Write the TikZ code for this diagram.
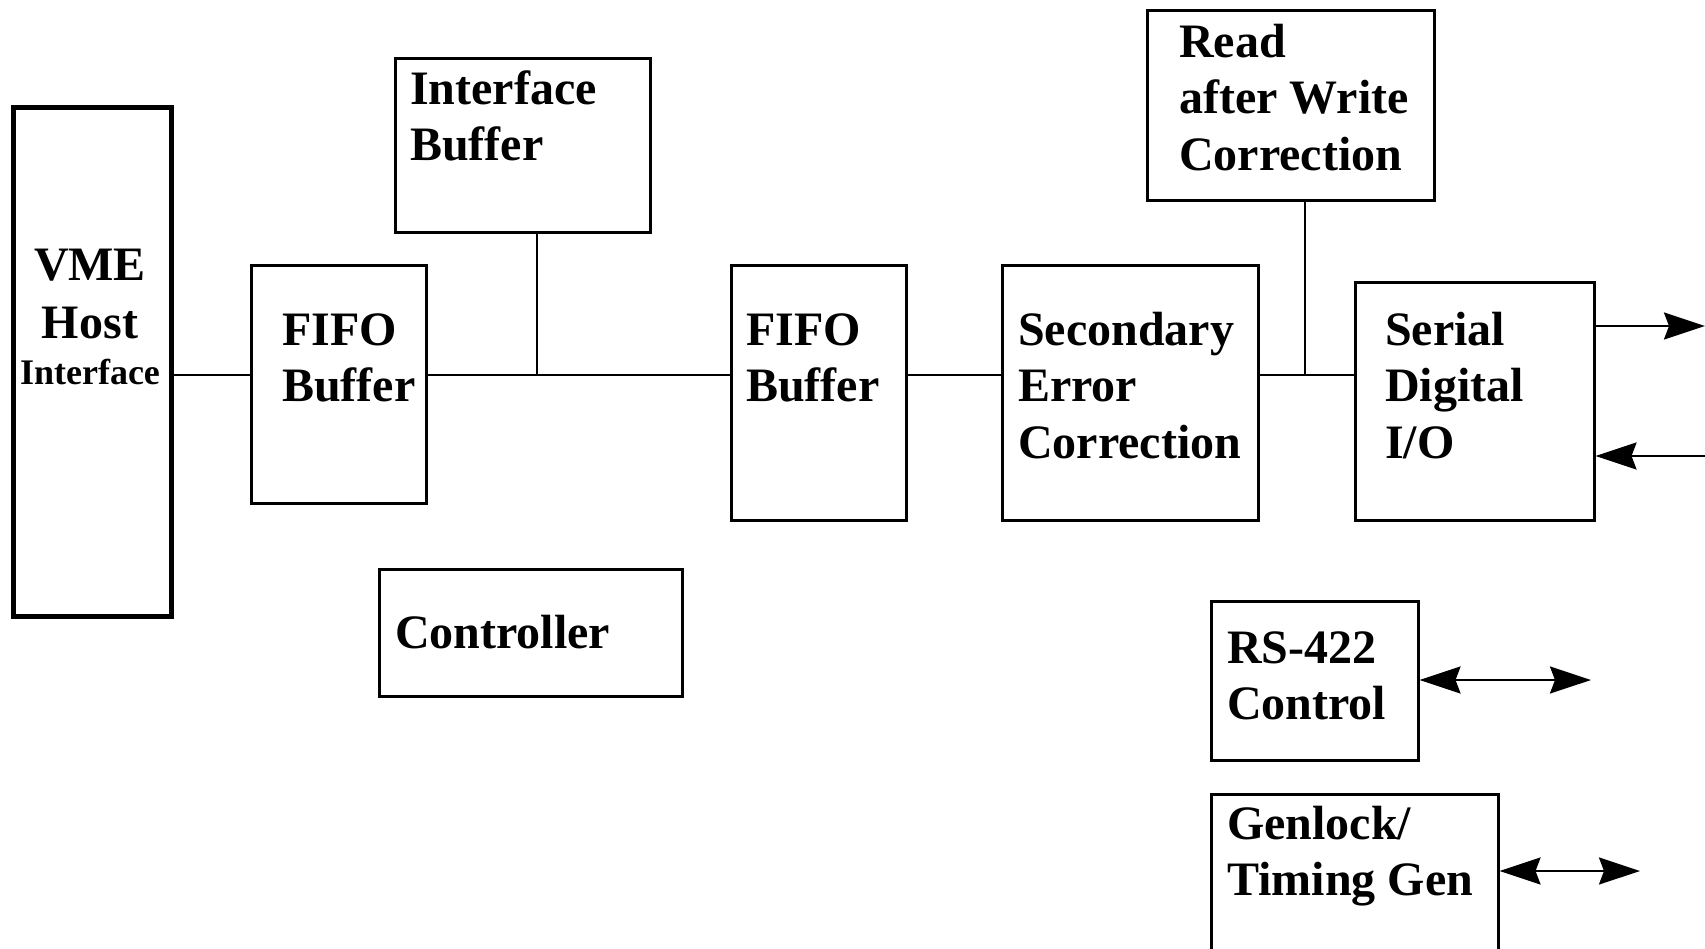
\documentclass[tikz,border=0pt]{standalone}
\usepackage{fontspec}
\setmainfont{Liberation Serif}
\usetikzlibrary{arrows.meta,calc}
\begin{document}
\begin{tikzpicture}[x=1pt,y=-1pt,
  box/.style={draw, line width=2.5pt, rectangle, inner sep=0pt, anchor=north west},
  lbl/.style={anchor=base west, inner sep=0pt, font=\fontsize{48pt}{56.5pt}\selectfont\bfseries},
  wire/.style={line width=2.5pt},
  arr/.style={line width=2.5pt, -{Stealth[length=41pt,width=27pt,inset=5pt]}},
  darr/.style={line width=2.5pt, {Stealth[length=41pt,width=27pt,inset=5pt]}-{Stealth[length=41pt,width=27pt,inset=5pt]}}]
\clip (0,0) rectangle (1705,948);
\fill[white] (0,0) rectangle (1705,948);
% boxes
\node[box, line width=5pt, minimum width=158pt, minimum height=509pt] (vme) at (11,105) {};
\node[box, minimum width=175pt, minimum height=238pt] (fifoA) at (250,264) {};
\node[box, minimum width=255pt, minimum height=174pt] (ib) at (394,57) {};
\node[box, minimum width=175pt, minimum height=255pt] (fifoB) at (730,264) {};
\node[box, minimum width=256pt, minimum height=255pt] (sec) at (1001,264) {};
\node[box, minimum width=287pt, minimum height=190pt] (raw) at (1146,9) {};
\node[box, minimum width=239pt, minimum height=238pt] (sdi) at (1354,281) {};
\node[box, minimum width=303pt, minimum height=127pt] (ctrl) at (378,568) {};
\node[box, minimum width=207pt, minimum height=159pt] (rs) at (1210,600) {};
\node[box, minimum width=287pt, minimum height=180pt] (gen) at (1210,793) {};
% labels
\node[lbl, anchor=base] (vmeT) at (90,280) {\begin{tabular}[t]{@{}c@{}}VME\\[1.5pt]Host\end{tabular}};
\node[lbl, anchor=base, font=\fontsize{36pt}{42pt}\selectfont\bfseries] (vmeI) at (90,384) {Interface};
\node[lbl] (fifoAT) at (282,345) {\begin{tabular}[t]{@{}l@{}}FIFO\\Buffer\end{tabular}};
\node[lbl] (ibT) at (410,104) {\begin{tabular}[t]{@{}l@{}}Interface\\Buffer\end{tabular}};
\node[lbl] (fifoBT) at (746,345) {\begin{tabular}[t]{@{}l@{}}FIFO\\Buffer\end{tabular}};
\node[lbl] (secT) at (1018,345) {\begin{tabular}[t]{@{}l@{}}Secondary\\Error\\Correction\end{tabular}};
\node[lbl] (rawT) at (1179,57) {\begin{tabular}[t]{@{}l@{}}Read\\after Write\\Correction\end{tabular}};
\node[lbl] (sdiT) at (1385,345) {\begin{tabular}[t]{@{}l@{}}Serial\\Digital\\I/O\end{tabular}};
\node[lbl] (ctrlT) at (395,648) {Controller};
\node[lbl] (rsT) at (1227,663) {\begin{tabular}[t]{@{}l@{}}RS-422\\Control\end{tabular}};
\node[lbl] (genT) at (1227,839) {\begin{tabular}[t]{@{}l@{}}Genlock/\\Timing Gen\end{tabular}};
% connectors
\coordinate (bus) at (0,375);
\coordinate (ibtap) at (537,375);
\coordinate (rawtap) at (1305,375);
\coordinate (sdiout) at (1705,326);
\coordinate (sdiin) at (1705,456);
\coordinate (rsend) at (1591,680);
\coordinate (genend) at (1640,871);
\draw[wire] (vme.east |- bus) -- (fifoA.west |- bus);
\draw[wire] (fifoA.east |- bus) -- (fifoB.west |- bus);
\draw[wire] (ibtap |- ib.south) -- (ibtap);
\draw[wire] (fifoB.east |- bus) -- (sec.west |- bus);
\draw[wire] (sec.east |- bus) -- (sdi.west |- bus);
\draw[wire] (rawtap |- raw.south) -- (rawtap);
\draw[arr] ([xshift=-3pt]sdi.east |- sdiout) -- (sdiout);
\draw[arr] (sdiin) -- (sdi.east |- sdiin);
\draw[darr] (rs.east |- rsend) -- (rsend);
\draw[darr] (gen.east |- genend) -- (genend);
\end{tikzpicture}
\end{document}
